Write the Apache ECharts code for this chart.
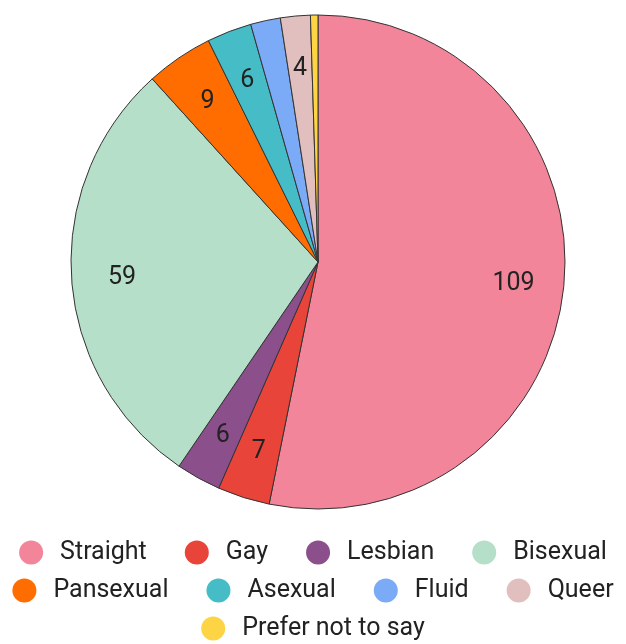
<!DOCTYPE html>
<html>
<head>
<meta charset="utf-8">
<script src="https://cdn.jsdelivr.net/npm/echarts@6/dist/echarts.min.js"></script>
<style>
  html, body { margin: 0; padding: 0; background: #fff; }
  #chart { width: 626px; height: 644px; }
</style>
</head>
<body>
<div id="chart"></div>
<script>
var categories = ['Straight', 'Gay', 'Lesbian', 'Bisexual', 'Pansexual', 'Asexual', 'Fluid', 'Queer', 'Prefer not to say'];
var counts = [109, 7, 6, 59, 9, 6, 4, 4, 1];
var colors = ['#f28599', '#e8443a', '#8b4f8b', '#b5dfc9', '#ff6d01', '#46bdc6', '#7baaf7', '#e0bfbe', '#fdd443'];
var noLabel = ['Fluid', 'Prefer not to say'];

var legendRows = [
    ['Straight', 'Gay', 'Lesbian', 'Bisexual'],
    ['Pansexual', 'Asexual', 'Fluid', 'Queer'],
    ['Prefer not to say']
];

var pieData = [];
var labelData = [];
$each = function (arr, fn) { for (var i = 0; i < arr.length; i++) fn(i, arr[i]); };
$each(categories, function (i, name) {
    pieData.push({ name: name, value: counts[i] });
    labelData.push({
        name: name,
        value: counts[i],
        label: { show: noLabel.indexOf(name) < 0 }
    });
});

var legends = [];
$each(legendRows, function (i, row) {
    legends.push({
        data: row,
        left: 'center',
        top: 535 + i * 38,
        icon: 'circle',
        itemWidth: 24,
        itemHeight: 24,
        itemGap: 38,
        selectedMode: false,
        itemStyle: { borderWidth: 0 },
        textStyle: {
            fontFamily: 'Roboto',
            fontSize: 25,
            color: '#222',
            padding: [0, 0, 0, 12]
        }
    });
});

var chart = echarts.init(document.getElementById('chart'));
chart.setOption({
    animation: false,
    color: colors,
    legend: legends,
    series: [{
        name: 'main',
        type: 'pie',
        center: [318, 262],
        radius: [0, 247],
        startAngle: 90,
        clockwise: true,
        label: { show: false },
        labelLine: { show: false },
        itemStyle: { borderColor: '#333', borderWidth: 1 },
        emphasis: { disabled: true },
        data: pieData
    }, {
        name: 'labels',
        type: 'pie',
        center: [318, 264],
        radius: [140, 247],
        startAngle: 90,
        clockwise: true,
        silent: true,
        legendHoverLink: false,
        itemStyle: { color: 'rgba(0,0,0,0)', borderWidth: 0 },
        label: {
            position: 'inner',
            formatter: '{c}',
            fontFamily: 'Roboto',
            fontSize: 25,
            color: '#222'
        },
        labelLine: { show: false },
        emphasis: { disabled: true },
        data: labelData
    }]
});
</script>
</body>
</html>
